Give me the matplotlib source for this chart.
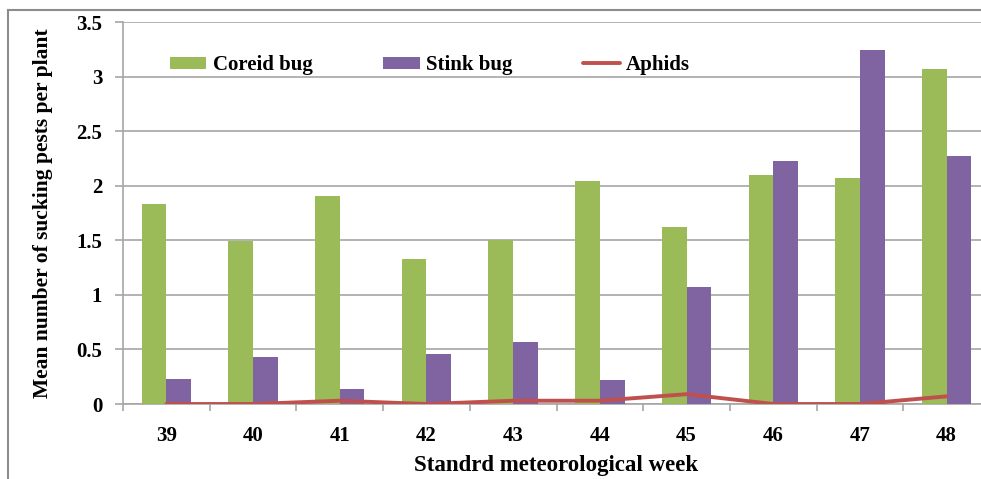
import matplotlib
matplotlib.use("Agg")
import matplotlib.pyplot as plt
import numpy as np
from matplotlib.lines import Line2D

weeks = ["39", "40", "41", "42", "43", "44", "45", "46", "47", "48"]
coreid_bug = [1.83, 1.49, 1.91, 1.33, 1.50, 2.04, 1.62, 2.10, 2.07, 3.07]
stink_bug = [0.23, 0.43, 0.14, 0.46, 0.57, 0.22, 1.07, 2.23, 3.24, 2.27]
aphids = [0.0, 0.0, 0.03, 0.0, 0.03, 0.03, 0.09, 0.0, 0.0, 0.07]

green = "#9BBB59"
purple = "#8064A2"
red = "#C0504D"
grid_col = "#A6A6A6"

plt.rcParams['font.family'] = ['Liberation Serif', 'DejaVu Serif']
plt.rcParams['font.weight'] = 'bold'

fig = plt.figure(figsize=(9.81, 4.79), dpi=100)

# outer chart frame (cropped at right and bottom)
fig.add_artist(Line2D([8/981, 8/981], [0, 1 - 10/479], color="#8C8C8C", lw=1.5, transform=fig.transFigure))
fig.add_artist(Line2D([8/981, 1], [1 - 10/479, 1 - 10/479], color="#8C8C8C", lw=1.5, transform=fig.transFigure))

ax = fig.add_axes([123/981, 1 - 404/479, 867/981, (404 - 22)/479])

x = np.arange(len(weeks))
w = 0.285
b1 = ax.bar(x - w/2, coreid_bug, width=w, color=green, label="Coreid bug", zorder=3)
b2 = ax.bar(x + w/2, stink_bug, width=w, color=purple, label="Stink bug", zorder=3)
l1, = ax.plot(x, aphids, color=red, lw=2.8, label="Aphids", zorder=4, solid_capstyle="round")

ax.set_xlim(-0.5, len(weeks) - 0.5)
ax.set_ylim(0, 3.5)
ax.set_yticks(np.arange(0, 3.51, 0.5))
ax.set_yticklabels(["0", "0.5", "1", "1.5", "2", "2.5", "3", "3.5"], fontsize=15, fontweight='bold')
ax.set_xticks(x)
ax.set_xticklabels(weeks, fontsize=15, fontweight='bold')
ax.set_xticks(np.arange(-0.5, len(weeks), 1.0), minor=True)

ax.yaxis.grid(True, color=grid_col, lw=1.2, zorder=0)
ax.tick_params(axis='y', length=6, color=grid_col, width=1.2, pad=9)
ax.tick_params(axis='x', which='major', length=0, pad=16)
ax.tick_params(axis='x', which='minor', length=5, color=grid_col, width=1.2)

for s in ["top", "right"]:
    ax.spines[s].set_visible(False)
for s in ["left", "bottom"]:
    ax.spines[s].set_color(grid_col)
    ax.spines[s].set_linewidth(1.2)

ax.set_ylabel("Mean number of sucking pests per plant", fontsize=15.5, fontweight='bold')
ax.set_xlabel("Standrd meteorological week", fontsize=16.5, fontweight='bold', labelpad=6)
ax.yaxis.set_label_coords(-70/867, 0.5)

ax.legend([b1, b2, l1], ["Coreid bug", "Stink bug", "Aphids"],
          loc="center left", bbox_to_anchor=(47/867, 0.887), ncol=3, frameon=False,
          borderpad=0, borderaxespad=0, handlelength=1.75, handleheight=0.55,
          columnspacing=3.4, handletextpad=0.3, prop={'weight': 'bold', 'size': 15})

fig.savefig("out.png", dpi=100)
